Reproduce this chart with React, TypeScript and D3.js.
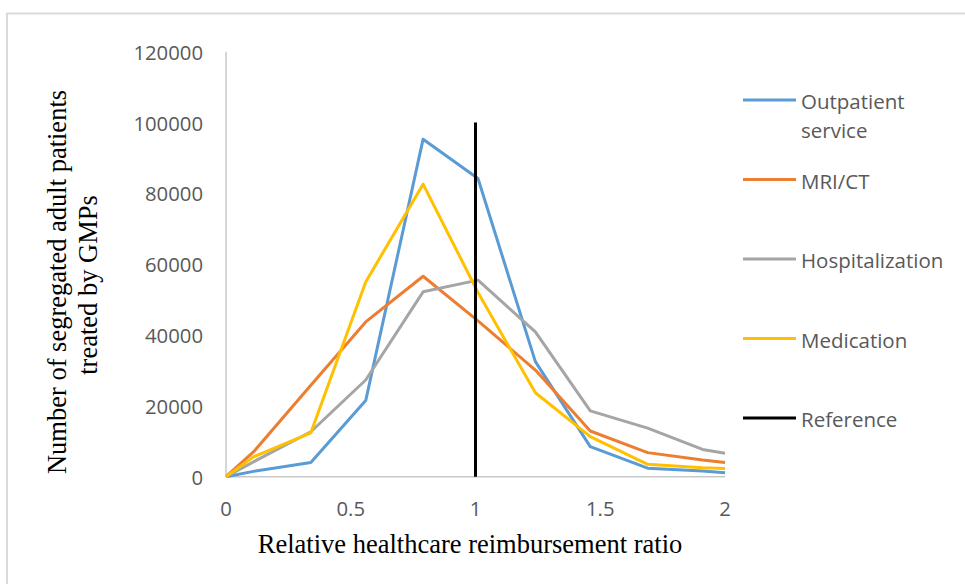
import React from "react";
import * as d3 from "d3";

// relative reimbursement ratio (bin centres)
const ratios = [0, 0.11, 0.34, 0.56, 0.79, 1.01, 1.24, 1.46, 1.69, 1.91, 2];

const outpatient = [0, 1500, 4000, 21500, 95300, 84200, 32500, 8500, 2400, 1600, 1100];
const mriCt = [0, 7000, 25800, 43700, 56600, 44000, 30100, 12900, 6800, 4700, 4000];
const hospitalization = [0, 4200, 12700, 27300, 52200, 55500, 40900, 18600, 13700, 7700, 6600];
const medication = [0, 5600, 12400, 55000, 82600, 52000, 23700, 11300, 3500, 2500, 2300];

const referenceX = [1, 1];
const referenceY = [0, 100000];

const seriesNames = ["Outpatient service", "MRI/CT", "Hospitalization", "Medication", "Reference"];
const seriesColors = ["#5B9BD5", "#ED7D31", "#A5A5A5", "#FFC000", "#000000"];

const yTicks = [0, 20000, 40000, 60000, 80000, 100000, 120000];
const xTicks = [0, 0.5, 1, 1.5, 2];

const W = 965;
const H = 584;
const sans = "'Open Sans', 'Noto Sans', sans-serif";
const serif = "'Liberation Serif', 'DejaVu Serif', serif";

const x = d3.scaleLinear().domain([0, 2]).range([226, 725]);
const y = d3.scaleLinear().domain([0, 120000]).range([476.7, 51.7]);

const line = d3
  .line<[number, number]>()
  .x((d) => x(d[0]))
  .y((d) => y(d[1]));

const App = () => {
  const series = [outpatient, mriCt, hospitalization, medication].map((vals) =>
    vals.map((v, i) => [ratios[i], v] as [number, number])
  );
  const refPts = referenceX.map((v, i) => [v, referenceY[i]] as [number, number]);

  const legendY = d3.scalePoint<number>().domain([0, 1, 2, 3, 4]).range([100, 418]);

  return (
    <svg
      width={W}
      height={H}
      style={{ position: "absolute", left: 0, top: 0, background: "#fff" }}
    >
      <rect x={0} y={0} width={W} height={H} fill="#fff" />
      {/* chart area border (only top and left visible) */}
      <path d={`M7,${H} V13.5 H${W}`} fill="none" stroke="#D9D9D9" strokeWidth={2} />

      {/* axes */}
      <line x1={x(0)} x2={x(0)} y1={y(0)} y2={y(120000)} stroke="#C8C8C8" strokeWidth={1.5} />
      <line x1={x(0)} x2={x(2)} y1={y(0)} y2={y(0)} stroke="#C8C8C8" strokeWidth={1.5} />

      {yTicks.map((t) => (
        <text
          key={t}
          x={203}
          y={y(t)}
          textAnchor="end"
          dominantBaseline="central"
          fontFamily={sans}
          fontSize={20.3}
          fill="#595959"
        >
          {t}
        </text>
      ))}
      {xTicks.map((t) => (
        <text
          key={t}
          x={x(t)}
          y={507.5}
          textAnchor="middle"
          dominantBaseline="central"
          fontFamily={sans}
          fontSize={20.3}
          fill="#595959"
        >
          {t}
        </text>
      ))}

      {/* series lines */}
      {series.map((pts, i) => (
        <path
          key={seriesNames[i]}
          d={line(pts) || ""}
          fill="none"
          stroke={seriesColors[i]}
          strokeWidth={3}
          strokeLinejoin="round"
        />
      ))}
      <path d={line(refPts) || ""} fill="none" stroke="#000" strokeWidth={3} />

      {/* axis titles */}
      <text
        x={470}
        y={553}
        textAnchor="middle"
        fontFamily={serif}
        fontSize={26.5}
        fill="#000"
      >
        Relative healthcare reimbursement ratio
      </text>
      <g transform="translate(0,282) rotate(-90)">
        <text x={0} y={66} textAnchor="middle" fontFamily={serif} fontSize={26.5} fill="#000">
          Number of segregated adult patients
        </text>
        <text x={-3} y={97} textAnchor="middle" fontFamily={serif} fontSize={26.5} fill="#000">
          treated by GMPs
        </text>
      </g>

      {/* legend */}
      {seriesNames.map((name, i) => {
        const ly = legendY(i) as number;
        const parts = name === "Outpatient service" ? ["Outpatient", "service"] : [name];
        return (
          <g key={name}>
            <line x1={743} x2={796} y1={ly} y2={ly} stroke={seriesColors[i]} strokeWidth={3} />
            {parts.map((p, j) => (
              <text
                key={p}
                x={801}
                y={ly + 1 + j * 28.5}
                dominantBaseline="central"
                fontFamily={sans}
                fontSize={20.5}
                fill="#595959"
              >
                {p}
              </text>
            ))}
          </g>
        );
      })}
    </svg>
  );
};

export default App;
